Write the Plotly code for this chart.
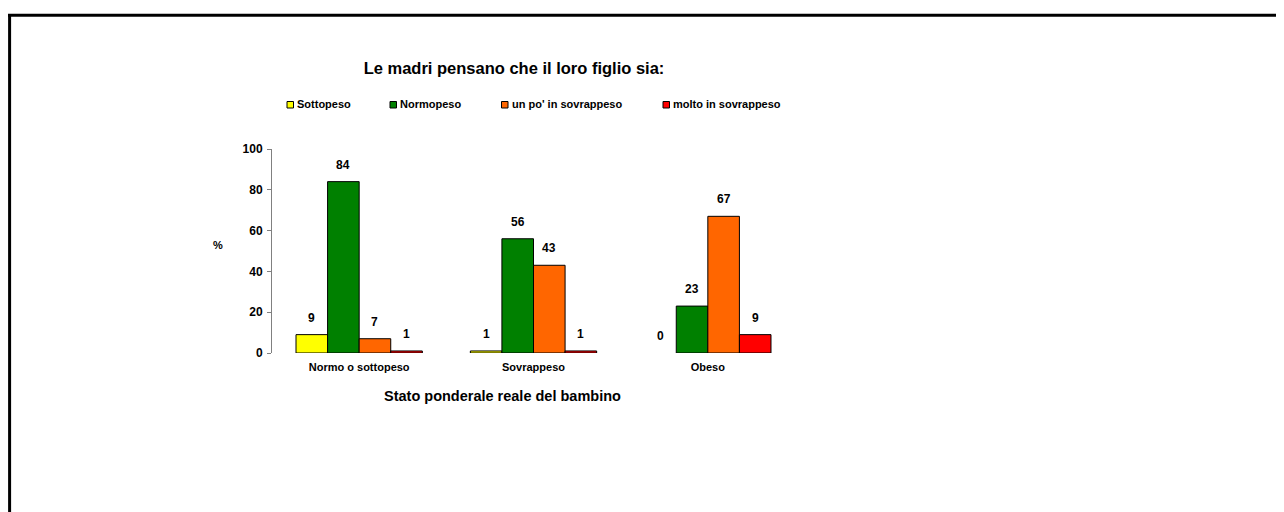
import plotly.graph_objects as go

# ---- data ----
categories = ["Normo o sottopeso", "Sovrappeso", "Obeso"]
series_names = ["Sottopeso", "Normopeso", "un po' in sovrappeso", "molto in sovrappeso"]
sottopeso = [9, 1, 0]
normopeso = [84, 56, 23]
un_po_sovrappeso = [7, 43, 67]
molto_sovrappeso = [1, 1, 9]
series_values = [sottopeso, normopeso, un_po_sovrappeso, molto_sovrappeso]
colors = ["#FFFF00", "#008000", "#FF6600", "#FF0000"]
y_ticks = [0, 20, 40, 60, 80, 100]

title_text = "Le madri pensano che il loro figlio sia:"
x_title = "Stato ponderale reale del bambino"
y_title = "%"

# ---- layout geometry (figure pixels) ----
FW, FH = 1276, 504
OFF = 8  # body margin of the html page
L, T, PW, PH = 264, 141, 523, 204
R = FW - L - PW
B = FH - T - PH
BARGAP = 0.2755

FONT = "Arial, 'Liberation Sans', sans-serif"


def px(xs):
    return (xs - OFF - L) / PW


def py(ys):
    return 1 - (ys - OFF - T) / PH


fig = go.Figure()
for name, vals, col in zip(series_names, series_values, colors):
    fig.add_trace(go.Bar(
        x=categories, y=vals, name=name,
        marker=dict(color=col,
                    line=dict(color="#000000", width=[1 if v > 0 else 0 for v in vals])),
        showlegend=False, hoverinfo="x+y+name",
    ))

# data labels
bw = PW / len(categories) * (1 - BARGAP) / len(series_names)
annotations = []
for k, vals in enumerate(series_values):
    for c, v in zip(categories, vals):
        annotations.append(dict(
            x=c, y=v, xref="x", yref="y", text=f"<b>{v}</b>",
            showarrow=False, xanchor="center", yanchor="middle",
            xshift=(k - (len(series_names) - 1) / 2) * bw, yshift=17,
            font=dict(family=FONT, size=12, color="#000000"),
        ))

# manual legend
legend_marker_x = [287, 390, 501.5, 663]
shapes = []
for mx, col, name in zip(legend_marker_x, colors, series_names):
    shapes.append(dict(type="rect", xref="paper", yref="paper",
                       x0=px(mx), x1=px(mx + 6.5), y0=py(108), y1=py(101.5),
                       fillcolor=col, line=dict(color="#000000", width=1)))
    annotations.append(dict(
        x=px(mx + 8), y=py(104.5), xref="paper", yref="paper",
        text=f"<b>{name}</b>", showarrow=False, xanchor="left", yanchor="middle",
        font=dict(family=FONT, size=11, color="#000000"),
    ))

# axis titles
annotations.append(dict(
    x=px(502), y=py(396), xref="paper", yref="paper", text=f"<b>{x_title}</b>",
    showarrow=False, xanchor="center", yanchor="middle",
    font=dict(family=FONT, size=14.5, color="#000000"),
))
annotations.append(dict(
    x=px(218), y=py(245), xref="paper", yref="paper", text=f"<b>{y_title}</b>",
    showarrow=False, xanchor="center", yanchor="middle",
    font=dict(family=FONT, size=11, color="#000000"),
))

# outer border (top and left lines)
shapes.append(dict(type="line", xref="paper", yref="paper",
                   x0=px(8), x1=px(1290), y0=py(15.3), y1=py(15.3),
                   line=dict(color="#000000", width=3)))
shapes.append(dict(type="line", xref="paper", yref="paper",
                   x0=px(9.6), x1=px(9.6), y0=py(14), y1=py(520),
                   line=dict(color="#000000", width=3)))

fig.update_layout(
    width=FW, height=FH,
    margin=dict(l=L, r=R, t=T, b=B, pad=0),
    paper_bgcolor="#FFFFFF", plot_bgcolor="#FFFFFF",
    barmode="group", bargap=BARGAP, bargroupgap=0,
    title=dict(text=f"<b>{title_text}</b>", x=(514 - OFF) / FW, xref="container",
               y=1 - (68 - OFF) / FH, yref="container",
               xanchor="center", yanchor="middle",
               font=dict(family=FONT, size=16.5, color="#000000")),
    font=dict(family=FONT, color="#000000"),
    showlegend=False,
    annotations=annotations,
    shapes=shapes,
)
fig.update_xaxes(
    showline=False, showgrid=False, zeroline=False, ticks="",
    tickfont=dict(family=FONT, size=11, color="#000000"),
    tickprefix="<b>", ticksuffix="</b>",
    ticklabelstandoff=6,
)
fig.update_yaxes(
    range=[0, 100], tickvals=y_ticks, ticktext=[f"<b>{t}</b>" for t in y_ticks],
    showline=True, linecolor="#808080", linewidth=1,
    ticks="outside", ticklen=4, tickcolor="#808080", tickwidth=1,
    showgrid=False, zeroline=False,
    tickfont=dict(family=FONT, size=12, color="#000000"),
    ticklabelstandoff=2,
)

fig.write_html("out.html")
